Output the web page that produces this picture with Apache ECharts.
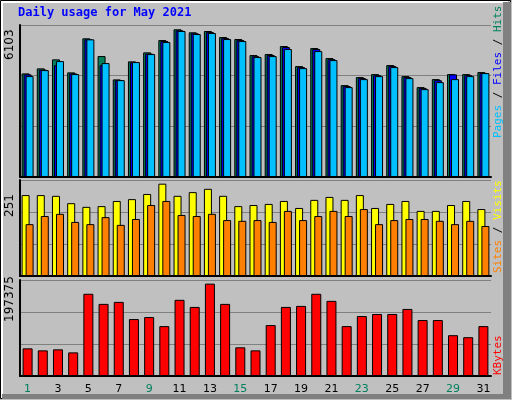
<!DOCTYPE html>
<html>
<head>
<meta charset="utf-8">
<script src="https://cdn.jsdelivr.net/npm/echarts@6/dist/echarts.min.js"></script>
<style>html,body{margin:0;padding:0;background:#c0c0c0}#c{width:512px;height:400px}</style>
</head>
<body>
<div id="c"></div>
<script>
// daily values
var days = ['1','2','3','4','5','6','7','8','9','10','11','12','13','14','15','16','17','18','19','20','21','22','23','24','25','26','27','28','29','30','31']
var weekend = ['1','2','8','9','15','16','22','23','29','30']
var hits = [4281,4488,4861,4323,5730,4998,4033,4778,5151,5660,6103,5979,6033,5784,5701,5039,5081,5412,4583,5329,4915,3797,4128,4252,4625,4169,3714,4045,4252,4252,4335]
var files = [4240,4440,4620,4280,5690,4625,4000,4740,5100,5620,6060,5940,5990,5740,5660,4990,5040,5370,4540,5290,4870,3760,4090,4210,4590,4130,3680,4000,4240,4210,4300]
var pages = [4169,4417,4790,4252,5688,4707,4003,4749,5080,5577,6032,5908,5949,5701,5618,4956,4997,5287,4500,5204,4831,3714,4045,4169,4542,4086,3631,3921,4045,4169,4293]
var visits = [220,220,218,198,188,190,204,209,223,251,218,228,237,218,190,193,196,204,185,207,215,207,220,185,196,204,177,177,193,204,182]
var sites = [141,163,169,147,141,160,139,155,193,204,166,163,169,152,150,152,147,177,152,163,177,163,182,141,152,155,155,150,141,150,136]
var kbytes = [59100,54780,56950,50470,175700,154100,158400,121700,126000,106600,162800,147600,197375,154100,61300,54780,108800,147600,149800,175700,160600,106600,128200,132500,132500,143300,119600,119600,87200,82900,106600]

var chart = echarts.init(document.getElementById('c'))
var mono = 'DejaVu Sans Mono'
var grids = [
    {left: 20, width: 471, top: 25, height: 152},
    {left: 20, width: 471, top: 180, height: 96},
    {left: 20, width: 471, top: 280, height: 96}
]
var maxes = [6281, 261, 205150]

function xAx(i) {
    return {
        type: 'category', gridIndex: i, data: days,
        axisLine: {lineStyle: {color: '#000', width: 2}}, axisTick: {show: false},
        axisLabel: i == 2 ? {
            show: true, fontFamily: 'DejaVu Sans', fontSize: 11, margin: 8,
            color: function (v) { return weekend.indexOf(v) >= 0 ? '#00805c' : '#000' }
        } : {show: false}
    }
}
function yAx(i) {
    return {
        type: 'value', gridIndex: i, min: 0, max: maxes[i], interval: maxes[i] / 3,
        axisLabel: {show: false}, axisTick: {show: false},
        axisLine: {show: true, lineStyle: {color: '#000', width: 2}},
        splitLine: {lineStyle: {color: '#808080', width: 1}}
    }
}
function bar(name, data, i, color, w, gap) {
    return {
        name: name, type: 'bar', xAxisIndex: i, yAxisIndex: i, data: data,
        barWidth: w, barGap: gap, animation: false,
        itemStyle: {color: color, borderColor: '#000', borderWidth: 1}
    }
}

chart.setOption({
    backgroundColor: '#c0c0c0',
    grid: grids,
    xAxis: [xAx(0), xAx(1), xAx(2)],
    yAxis: [yAx(0), yAx(1), yAx(2)],
    series: [
        bar('Hits', hits, 0, '#00805c', 8, '-75%'),
        bar('Files', files, 0, '#0000ff', 8, '-75%'),
        bar('Pages', pages, 0, '#00c0ff', 8, '-75%'),
        bar('Visits', visits, 1, '#ffff00', 8, '-50%'),
        bar('Sites', sites, 1, '#ff8000', 8, '-50%'),
        bar('KBytes', kbytes, 2, '#ff0000', 10, '0%')
    ],
    graphic: [
        {type: 'rect', z: -1, shape: {x: 0.5, y: 0.5, width: 510, height: 398}, style: {fill: null, stroke: '#000'}},
        {type: 'rect', z: -1, shape: {x: 2, y: 2, width: 505, height: 395}, style: {fill: null, stroke: '#fff', lineWidth: 2}},
        {type: 'rect', z: -1, shape: {x: 503, y: 2, width: 8, height: 397}, style: {fill: '#808080'}},
        {type: 'rect', z: -1, shape: {x: 2, y: 394, width: 509, height: 5}, style: {fill: '#808080'}},
        {type: 'text', left: 18, top: 7, style: {text: 'Daily usage for May 2021', fill: '#0000ff', font: 'bold 12px "' + mono + '"'}},
        {type: 'text', x: 10, y: 60, rotation: Math.PI / 2, style: {text: '6103', fill: '#000', font: '12px "DejaVu Sans"', align: 'left', verticalAlign: 'middle'}},
        {type: 'text', x: 10, y: 217, rotation: Math.PI / 2, style: {text: '251', fill: '#000', font: '12px "DejaVu Sans"', align: 'left', verticalAlign: 'middle'}},
        {type: 'text', x: 10, y: 322, rotation: Math.PI / 2, style: {text: '197375', fill: '#000', font: '12px "DejaVu Sans"', align: 'left', verticalAlign: 'middle'}},
        {type: 'text', x: 498, y: 138, rotation: Math.PI / 2, style: {
            text: '{p|Pages} {s|/} {f|Files} {s|/} {h|Hits}', align: 'left', verticalAlign: 'middle',
            font: '11px "' + mono + '"',
            rich: {p: {fill: '#00c0ff'}, f: {fill: '#0000ff'}, h: {fill: '#00805c'}, s: {fill: '#000'}}
        }},
        {type: 'text', x: 498, y: 273, rotation: Math.PI / 2, style: {
            text: '{a|Sites} {s|/} {b|Visits}', align: 'left', verticalAlign: 'middle',
            font: '11px "' + mono + '"',
            rich: {a: {fill: '#ff8000'}, b: {fill: '#ffff00'}, s: {fill: '#000'}}
        }},
        {type: 'text', x: 498, y: 375, rotation: Math.PI / 2, style: {text: 'KBytes', fill: '#ff0000', font: '11px "' + mono + '"', align: 'left', verticalAlign: 'middle'}}
    ]
})
</script>
</body>
</html>
